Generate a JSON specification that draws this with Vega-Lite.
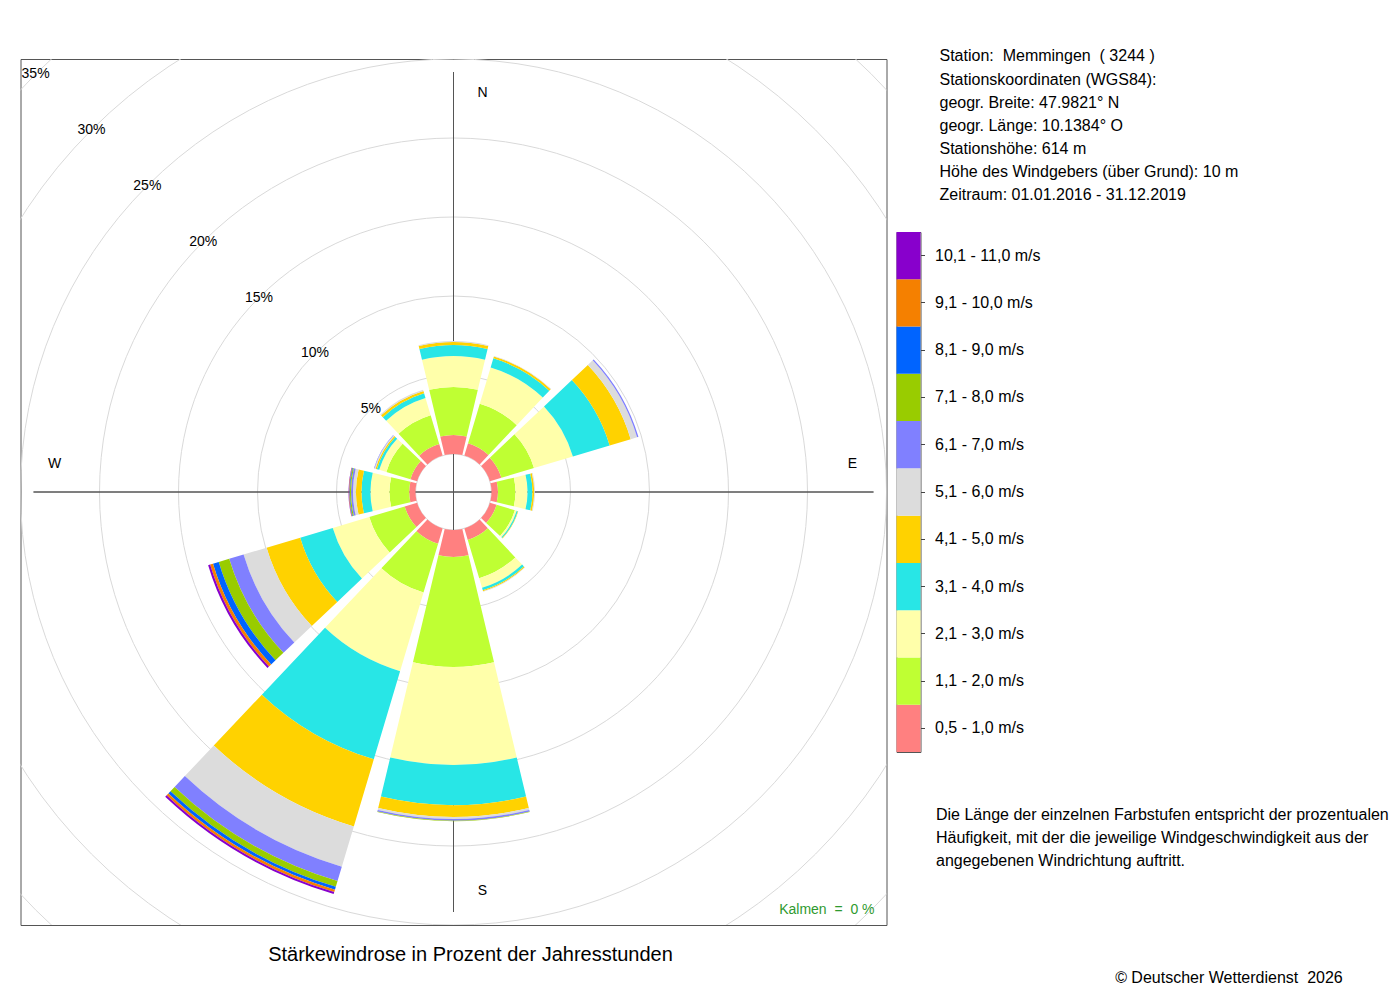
{
  "$schema": "https://vega.github.io/schema/vega-lite/v6.json",
  "background": "white",
  "padding": {"left": 19.5, "top": 47, "right": 10, "bottom": 10},
  "config": {
    "font": "Liberation Sans",
    "view": {"stroke": "#555555", "strokeWidth": 1},
    "title": {"fontWeight": "normal", "color": "black", "font": "Liberation Sans"}
  },
  "datasets": {
    "sectors": [
      {"dir": 0, "speed": 0.5, "pct": 1.2}, {"dir": 0, "speed": 1.1, "pct": 3.04}, {"dir": 0, "speed": 2.1, "pct": 1.96},
      {"dir": 0, "speed": 3.1, "pct": 0.7}, {"dir": 0, "speed": 4.1, "pct": 0.19}, {"dir": 0, "speed": 5.1, "pct": 0.06},
      {"dir": 30, "speed": 0.5, "pct": 0.82}, {"dir": 30, "speed": 1.1, "pct": 2.6}, {"dir": 30, "speed": 2.1, "pct": 2.4},
      {"dir": 30, "speed": 3.1, "pct": 0.6}, {"dir": 30, "speed": 4.1, "pct": 0.13}, {"dir": 30, "speed": 5.1, "pct": 0.03},
      {"dir": 60, "speed": 0.5, "pct": 0.76}, {"dir": 60, "speed": 1.1, "pct": 2.15}, {"dir": 60, "speed": 2.1, "pct": 2.57},
      {"dir": 60, "speed": 3.1, "pct": 2.43}, {"dir": 60, "speed": 4.1, "pct": 1.39}, {"dir": 60, "speed": 5.1, "pct": 0.42},
      {"dir": 60, "speed": 6.1, "pct": 0.09},
      {"dir": 90, "speed": 0.5, "pct": 0.41}, {"dir": 90, "speed": 1.1, "pct": 1.11}, {"dir": 90, "speed": 2.1, "pct": 0.76},
      {"dir": 90, "speed": 3.1, "pct": 0.31}, {"dir": 90, "speed": 4.1, "pct": 0.11}, {"dir": 90, "speed": 5.1, "pct": 0.05},
      {"dir": 120, "speed": 0.5, "pct": 0.44}, {"dir": 120, "speed": 1.1, "pct": 1.21}, {"dir": 120, "speed": 2.1, "pct": 0.12},
      {"dir": 120, "speed": 3.1, "pct": 0.07}, {"dir": 120, "speed": 4.1, "pct": 0.03},
      {"dir": 150, "speed": 0.5, "pct": 0.76}, {"dir": 150, "speed": 1.1, "pct": 2.53}, {"dir": 150, "speed": 2.1, "pct": 0.63},
      {"dir": 150, "speed": 3.1, "pct": 0.16}, {"dir": 150, "speed": 4.1, "pct": 0.07}, {"dir": 150, "speed": 5.1, "pct": 0.03},
      {"dir": 180, "speed": 0.5, "pct": 1.71}, {"dir": 180, "speed": 1.1, "pct": 6.96}, {"dir": 180, "speed": 2.1, "pct": 6.2},
      {"dir": 180, "speed": 3.1, "pct": 2.54}, {"dir": 180, "speed": 4.1, "pct": 0.75}, {"dir": 180, "speed": 5.1, "pct": 0.13},
      {"dir": 180, "speed": 6.1, "pct": 0.1}, {"dir": 180, "speed": 7.1, "pct": 0.03},
      {"dir": 210, "speed": 0.5, "pct": 1.01}, {"dir": 210, "speed": 1.1, "pct": 3.23}, {"dir": 210, "speed": 2.1, "pct": 5.19},
      {"dir": 210, "speed": 3.1, "pct": 5.82}, {"dir": 210, "speed": 4.1, "pct": 4.43}, {"dir": 210, "speed": 5.1, "pct": 2.66},
      {"dir": 210, "speed": 6.1, "pct": 0.95}, {"dir": 210, "speed": 7.1, "pct": 0.38}, {"dir": 210, "speed": 8.1, "pct": 0.19},
      {"dir": 210, "speed": 9.1, "pct": 0.16}, {"dir": 210, "speed": 10.1, "pct": 0.13},
      {"dir": 240, "speed": 0.5, "pct": 0.82}, {"dir": 240, "speed": 1.1, "pct": 2.34}, {"dir": 240, "speed": 2.1, "pct": 2.41},
      {"dir": 240, "speed": 3.1, "pct": 2.15}, {"dir": 240, "speed": 4.1, "pct": 2.22}, {"dir": 240, "speed": 5.1, "pct": 1.52},
      {"dir": 240, "speed": 6.1, "pct": 0.95}, {"dir": 240, "speed": 7.1, "pct": 0.69}, {"dir": 240, "speed": 8.1, "pct": 0.38},
      {"dir": 240, "speed": 9.1, "pct": 0.19}, {"dir": 240, "speed": 10.1, "pct": 0.13},
      {"dir": 270, "speed": 0.5, "pct": 0.4}, {"dir": 270, "speed": 1.1, "pct": 1.25}, {"dir": 270, "speed": 2.1, "pct": 1.2},
      {"dir": 270, "speed": 3.1, "pct": 0.57}, {"dir": 270, "speed": 4.1, "pct": 0.35}, {"dir": 270, "speed": 5.1, "pct": 0.19},
      {"dir": 270, "speed": 6.1, "pct": 0.12}, {"dir": 270, "speed": 7.1, "pct": 0.07}, {"dir": 270, "speed": 8.1, "pct": 0.04},
      {"dir": 270, "speed": 9.1, "pct": 0.03}, {"dir": 270, "speed": 10.1, "pct": 0.02},
      {"dir": 300, "speed": 0.5, "pct": 0.44}, {"dir": 300, "speed": 1.1, "pct": 1.59}, {"dir": 300, "speed": 2.1, "pct": 0.47},
      {"dir": 300, "speed": 3.1, "pct": 0.16}, {"dir": 300, "speed": 4.1, "pct": 0.09}, {"dir": 300, "speed": 5.1, "pct": 0.07},
      {"dir": 300, "speed": 6.1, "pct": 0.03},
      {"dir": 330, "speed": 0.5, "pct": 0.76}, {"dir": 330, "speed": 1.1, "pct": 1.9}, {"dir": 330, "speed": 2.1, "pct": 1.14},
      {"dir": 330, "speed": 3.1, "pct": 0.31}, {"dir": 330, "speed": 4.1, "pct": 0.16}, {"dir": 330, "speed": 5.1, "pct": 0.07}
    ],
    "classes": [
      {"speed": 0.5, "label": "0,5 - 1,0 m/s"},
      {"speed": 1.1, "label": "1,1 - 2,0 m/s"},
      {"speed": 2.1, "label": "2,1 - 3,0 m/s"},
      {"speed": 3.1, "label": "3,1 - 4,0 m/s"},
      {"speed": 4.1, "label": "4,1 - 5,0 m/s"},
      {"speed": 5.1, "label": "5,1 - 6,0 m/s"},
      {"speed": 6.1, "label": "6,1 - 7,0 m/s"},
      {"speed": 7.1, "label": "7,1 - 8,0 m/s"},
      {"speed": 8.1, "label": "8,1 - 9,0 m/s"},
      {"speed": 9.1, "label": "9,1 - 10,0 m/s"},
      {"speed": 10.1, "label": "10,1 - 11,0 m/s"}
    ],
    "rings": [
      {"pct": 0, "label": ""}, {"pct": 5, "label": "5%"}, {"pct": 10, "label": "10%"}, {"pct": 15, "label": "15%"},
      {"pct": 20, "label": "20%"}, {"pct": 25, "label": "25%"}, {"pct": 30, "label": "30%"}, {"pct": 35, "label": "35%"}
    ],
    "compass": [
      {"dir": 0, "label": "N"}, {"dir": 90, "label": "E"}, {"dir": 180, "label": "S"}, {"dir": 270, "label": "W"}
    ],
    "calm": [{"label": "Kalmen \u00a0=\u00a0 0 %"}]
  },
  "title": {
    "text": "© Deutscher Wetterdienst \u00a02026",
    "orient": "bottom", "anchor": "end", "frame": "bounds",
    "dx": -46, "offset": 4, "fontSize": 16
  },
  "bounds": "flush",
  "center": true,
  "spacing": 10,
  "hconcat": [
    {
      "width": 866,
      "height": 866,
      "title": {
        "text": "Stärkewindrose in Prozent der Jahresstunden",
        "orient": "bottom", "anchor": "middle", "frame": "group",
        "dx": 17, "offset": 20, "fontSize": 20
      },
      "layer": [
        {
          "data": {"name": "rings"},
          "mark": {"type": "arc", "filled": false, "color": "#d9d9d9", "strokeWidth": 1, "theta": 0, "theta2": 6.2832, "innerRadius": 0, "clip": true},
          "encoding": {
            "radius": {"field": "pct", "type": "quantitative", "stack": null, "scale": {"type": "linear", "domain": [0, 35], "range": [38, 591]}}
          }
        },
        {
          "data": {"name": "compass"},
          "mark": {"type": "arc", "filled": false, "color": "#555555", "strokeWidth": 1, "outerRadius": 420, "innerRadius": 0},
          "encoding": {
            "theta": {"field": "dir", "type": "quantitative", "stack": null, "scale": {"type": "linear", "domain": [0, 360], "range": [0, 6.283185307179586]}},
            "theta2": {"field": "dir"}
          }
        },
        {
          "data": {"name": "sectors"},
          "transform": [
            {"stack": "pct", "groupby": ["dir"], "sort": [{"field": "speed", "order": "ascending"}], "as": ["r0", "r1"]}
          ],
          "mark": {"type": "arc", "thetaOffset": -0.2339, "theta2Offset": 0.2339},
          "encoding": {
            "theta": {"field": "dir", "type": "quantitative", "stack": null, "scale": {"type": "linear", "domain": [0, 360], "range": [0, 6.283185307179586]}},
            "theta2": {"field": "dir"},
            "radius": {"field": "r1", "type": "quantitative", "stack": null, "scale": {"type": "linear", "domain": [0, 35], "range": [38, 591]}},
            "radius2": {"field": "r0"},
            "color": {
              "field": "speed", "type": "ordinal", "legend": null,
              "scale": {
                "domain": [0.5, 1.1, 2.1, 3.1, 4.1, 5.1, 6.1, 7.1, 8.1, 9.1, 10.1],
                "range": ["#ff8080", "#bfff33", "#ffffaa", "#28e6e6", "#ffd200", "#dcdcdc", "#8080ff", "#99cc00", "#0064ff", "#f58000", "#8800cc"]
              }
            }
          }
        },
        {
          "data": {"name": "rings"},
          "transform": [{"filter": "datum.pct > 0"}],
          "mark": {"type": "text", "fontSize": 14, "align": "center", "baseline": "middle", "color": "black"},
          "encoding": {
            "theta": {"datum": 315, "type": "quantitative"},
            "radius": {"field": "pct", "type": "quantitative", "stack": null},
            "text": {"field": "label"}
          }
        },
        {
          "data": {"name": "compass"},
          "transform": [{"filter": "datum.dir == 0 || datum.dir == 180"}],
          "mark": {"type": "text", "radius": 399, "dx": 29, "fontSize": 14, "align": "center", "baseline": "middle", "color": "black"},
          "encoding": {
            "theta": {"field": "dir", "type": "quantitative"},
            "text": {"field": "label"}
          }
        },
        {
          "data": {"name": "compass"},
          "transform": [{"filter": "datum.dir == 90 || datum.dir == 270"}],
          "mark": {"type": "text", "radius": 399, "dy": -28, "fontSize": 14, "align": "center", "baseline": "middle", "color": "black"},
          "encoding": {
            "theta": {"field": "dir", "type": "quantitative"},
            "text": {"field": "label"}
          }
        },
        {
          "data": {"name": "calm"},
          "mark": {"type": "text", "align": "right", "baseline": "alphabetic", "dx": -12, "dy": -11, "fontSize": 14, "color": "#2f9a2f"},
          "encoding": {
            "x": {"value": "width"},
            "y": {"value": "height"},
            "text": {"field": "label"}
          }
        }
      ]
    },
    {
      "width": 24,
      "height": 520,
      "title": {
        "text": [
          "Station: \u00a0Memmingen \u00a0( 3244 )",
          "Stationskoordinaten (WGS84):",
          "geogr. Breite: 47.9821° N",
          "geogr. Länge: 10.1384° O",
          "Stationshöhe: 614 m",
          "Höhe des Windgebers (über Grund): 10 m",
          "Zeitraum: 01.01.2016 - 31.12.2019"
        ],
        "orient": "top", "anchor": "start", "frame": "group",
        "dx": 43, "offset": 28.5, "fontSize": 16, "lineHeight": 23.17
      },
      "data": {"name": "classes"},
      "mark": "rect",
      "encoding": {
        "y": {
          "field": "label", "type": "nominal",
          "sort": {"field": "speed", "op": "max", "order": "descending"},
          "scale": {"paddingInner": 0, "paddingOuter": 0},
          "axis": {
            "orient": "right", "domain": false, "grid": false,
            "tickSize": 4, "tickColor": "#444444", "labelFontSize": 16, "labelColor": "black",
            "labelPadding": 10, "labelFont": "Liberation Sans",
            "title": [
              "Die Länge der einzelnen Farbstufen entspricht der prozentualen",
              "Häufigkeit, mit der die jeweilige Windgeschwindigkeit aus der",
              "angegebenen Windrichtung auftritt."
            ],
            "titleAngle": 0, "titleAlign": "left", "titleBaseline": "top",
            "titleX": 15, "titleY": 574, "titleFontSize": 16, "titleFontWeight": "normal",
            "titleLineHeight": 23, "titleColor": "black", "titleFont": "Liberation Sans"
          }
        },
        "color": {
          "field": "speed", "type": "ordinal", "legend": null,
          "scale": {
            "domain": [0.5, 1.1, 2.1, 3.1, 4.1, 5.1, 6.1, 7.1, 8.1, 9.1, 10.1],
            "range": ["#ff8080", "#bfff33", "#ffffaa", "#28e6e6", "#ffd200", "#dcdcdc", "#8080ff", "#99cc00", "#0064ff", "#f58000", "#8800cc"]
          }
        }
      }
    }
  ]
}
